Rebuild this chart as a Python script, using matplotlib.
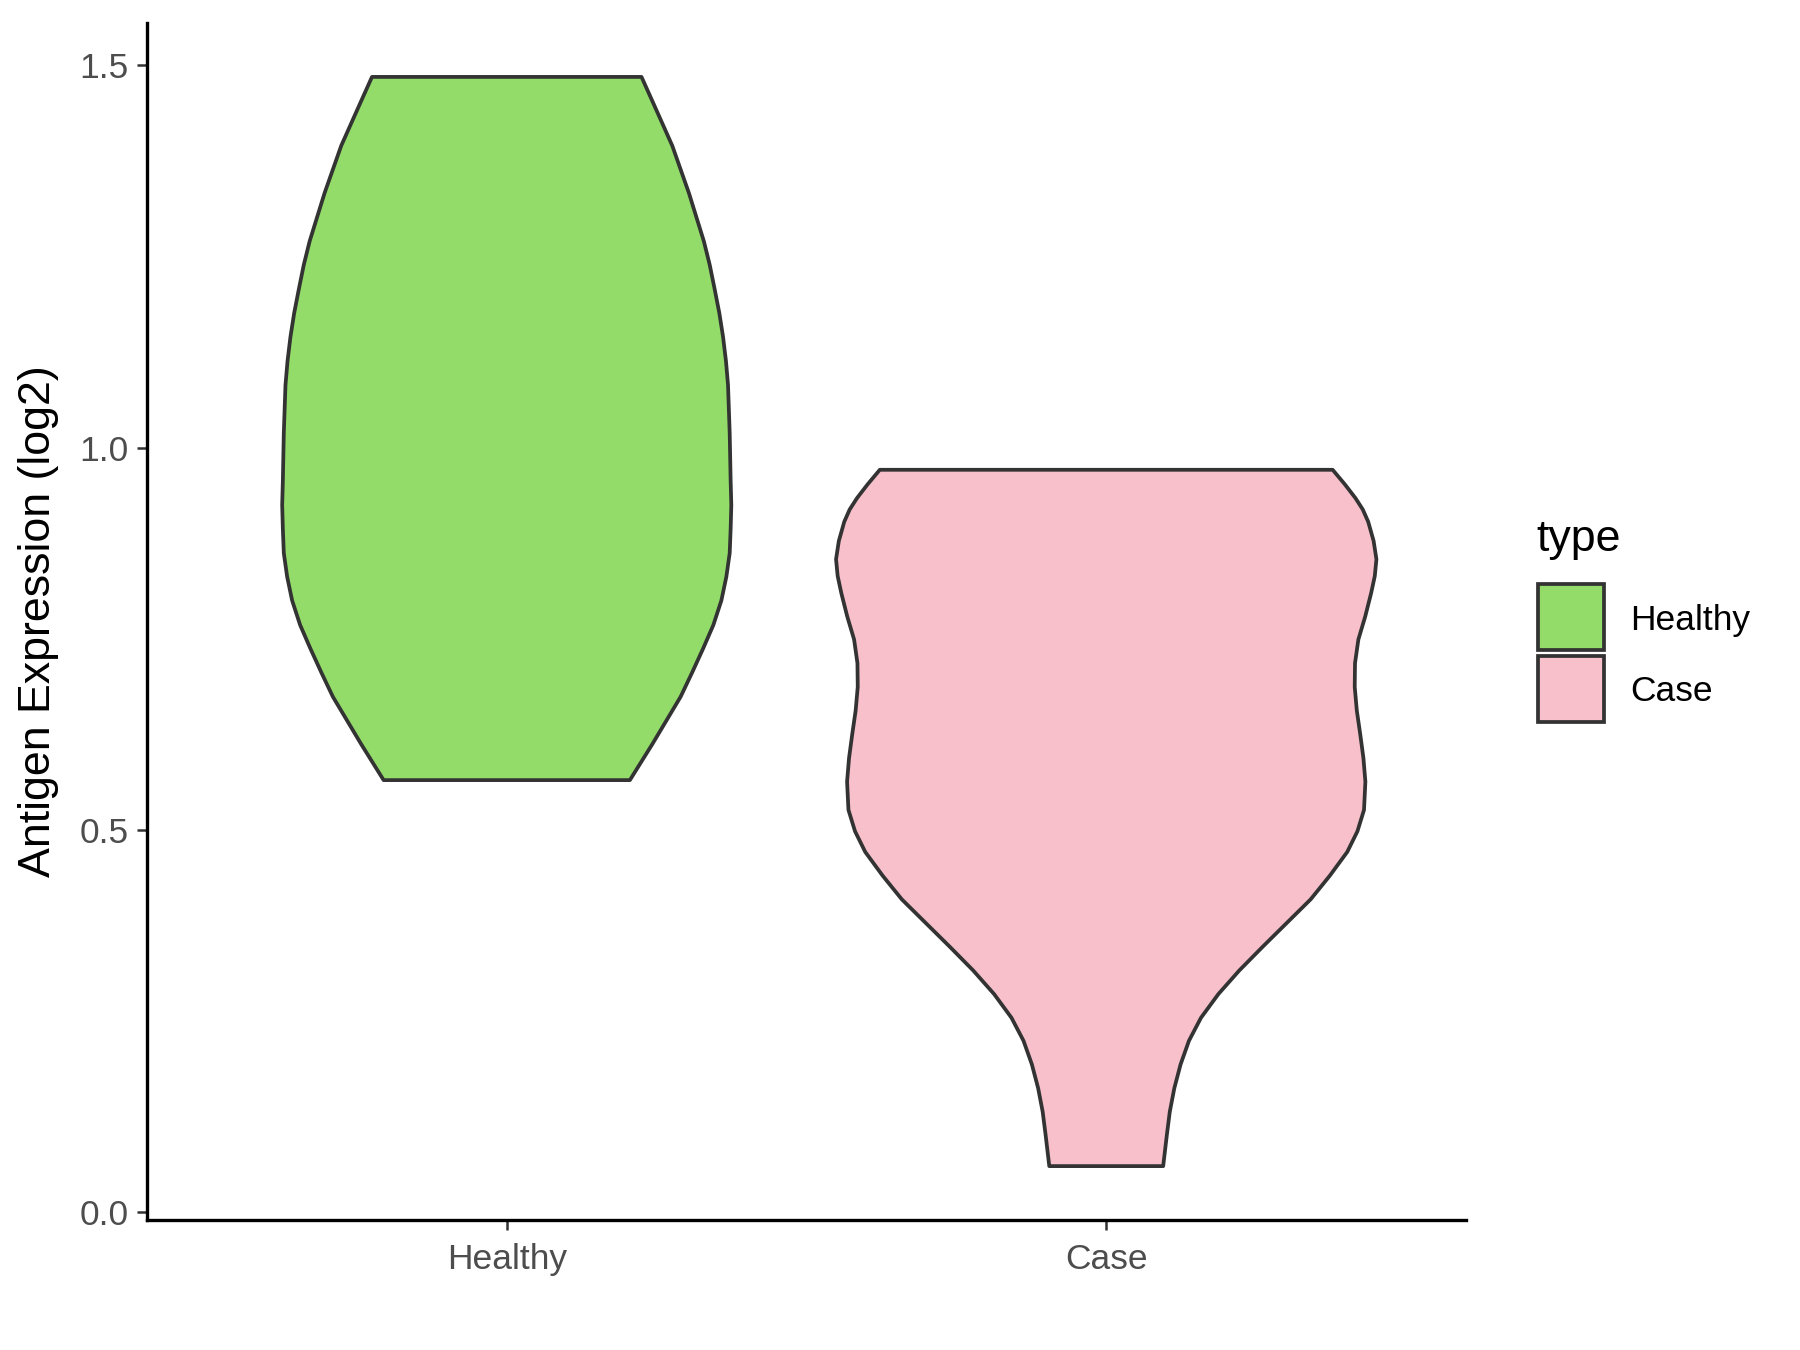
import matplotlib
matplotlib.use('Agg')
import matplotlib.pyplot as plt
from matplotlib.patches import Rectangle
import numpy as np

plt.rcParams['font.family'] = ['Liberation Sans', 'DejaVu Sans']

# groups and fills
groups = ['Healthy', 'Case']
fills = ['#93DC6A', '#F7C0CB']
edge = '#333333'

# violin outlines: expression value and half width (x units)
healthy_y = [1.485, 1.439, 1.395, 1.333, 1.270, 1.239, 1.207, 1.176, 1.145, 1.113, 1.082,
             1.019, 0.956, 0.925, 0.894, 0.862, 0.831, 0.800, 0.768, 0.737, 0.706, 0.674,
             0.643, 0.612, 0.565]
healthy_w = [0.2248, 0.2511, 0.2761, 0.3039, 0.3288, 0.3386, 0.3469, 0.3546, 0.3608, 0.3657,
             0.3691, 0.3719, 0.3735, 0.3746, 0.3735, 0.3719, 0.3663, 0.3580, 0.3447, 0.3275,
             0.3094, 0.2900, 0.2664, 0.2428, 0.2054]

case_y = [0.971, 0.952, 0.934, 0.919, 0.903, 0.878, 0.854, 0.832, 0.810, 0.779, 0.749, 0.718,
          0.687, 0.656, 0.625, 0.594, 0.563, 0.526, 0.498, 0.471, 0.440, 0.409, 0.378, 0.347,
          0.316, 0.285, 0.254, 0.224, 0.193, 0.162, 0.131, 0.100, 0.060]
case_w = [0.3777, 0.398, 0.4157, 0.428, 0.437, 0.446, 0.4507, 0.448, 0.442, 0.432, 0.4206,
          0.415, 0.4145, 0.418, 0.4237, 0.429, 0.4323, 0.43, 0.419, 0.402, 0.373, 0.341,
          0.301, 0.261, 0.222, 0.187, 0.158, 0.138, 0.124, 0.1136, 0.106, 0.101, 0.095]

profiles = [(healthy_y, healthy_w), (case_y, case_w)]

fig = plt.figure(figsize=(12, 9), dpi=150)
ax = fig.add_axes([0.0817, 0.0963, 0.8144 - 0.0817, 0.983 - 0.0963])

for i, ((yv, wv), col) in enumerate(zip(profiles, fills)):
    pos = i + 1
    yv = np.array(yv)
    wv = np.array(wv)
    xs = np.concatenate([pos - wv, (pos + wv)[::-1]])
    ys = np.concatenate([yv, yv[::-1]])
    ax.fill(xs, ys, facecolor=col, edgecolor=edge, linewidth=1.8, joinstyle='round', zorder=2)

ax.set_xlim(0.4, 2.6)
ax.set_ylim(-0.0105, 1.5556)
ax.set_xticks([1, 2])
ax.set_xticklabels(groups)
ax.set_yticks([0.0, 0.5, 1.0, 1.5])
ax.set_yticklabels(['0.0', '0.5', '1.0', '1.5'])

for s in ['top', 'right']:
    ax.spines[s].set_visible(False)
for s in ['left', 'bottom']:
    ax.spines[s].set_linewidth(1.6)
    ax.spines[s].set_color('black')
ax.tick_params(axis='both', length=5, width=1.2, color=edge, labelsize=17,
               labelcolor='#4D4D4D', pad=4)
ax.tick_params(axis='x', pad=6)

ax.set_ylabel('Antigen Expression (log2)', fontsize=21.5, color='black')
ax.yaxis.set_label_coords(-0.067, 0.5)

# legend drawn by hand like ggplot's
fig.text(0.8535, 0.600, 'type', fontsize=21.5, va='center', ha='left')
key_y = [0.5185, 0.4655]
for ky, col, lab in zip(key_y, fills, groups):
    fig.patches.append(Rectangle((0.8544, ky), 0.0366, 0.0489, transform=fig.transFigure,
                                 facecolor=col, edgecolor=edge, linewidth=1.8))
    fig.text(0.9056, ky + 0.0222, lab, fontsize=17, va='center', ha='left')

fig.savefig('out.png', dpi=150)
